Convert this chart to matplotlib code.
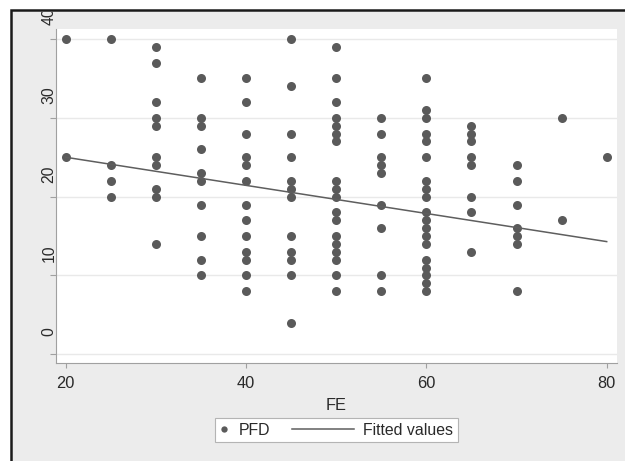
import numpy as np
import matplotlib
matplotlib.use('Agg')
import matplotlib.pyplot as plt
from matplotlib.lines import Line2D
from matplotlib.legend_handler import HandlerLine2D
from matplotlib.patches import Rectangle
from matplotlib.transforms import ScaledTranslation, Bbox, TransformedBbox

# PFD values observed at each FE level
fe_levels = [20, 25, 30, 35, 40, 45, 50, 55, 60, 65, 70, 75, 80]
pfd_groups = [
    [40, 25],
    [40, 24, 22, 20],
    [39, 37, 32, 30, 29, 25, 24, 21, 20, 14],
    [35, 30, 29, 26, 23, 22, 19, 15, 12, 10],
    [35, 32, 28, 25, 24, 22, 19, 17, 15, 13, 12, 10, 8],
    [40, 34, 28, 25, 22, 21, 20, 15, 13, 12, 10, 4],
    [39, 35, 32, 30, 29, 28, 27, 22, 21, 20, 18, 17, 15, 14, 13, 12, 10, 8],
    [30, 28, 25, 24, 23, 19, 16, 10, 8],
    [35, 31, 30, 28, 27, 25, 22, 21, 20, 18, 17, 16, 15, 14, 12, 11, 10, 9, 8],
    [29, 28, 27, 25, 24, 20, 18, 13],
    [24, 22, 19, 16, 15, 14, 8],
    [30, 17],
    [25],
]
# fitted line read at the ends of the FE range
fit_fe = [20, 80]
fit_pfd = [25.0, 14.3]

x_ticks = [20, 40, 60, 80]
y_ticks = [0, 10, 20, 30, 40]

fe = np.repeat(fe_levels, [len(g) for g in pfd_groups])
pfd = np.concatenate(pfd_groups)

plt.rcParams['font.family'] = ['Liberation Sans', 'DejaVu Sans']
txt_col = '#2a2a2a'
axis_col = '#a0a0a0'


class LongLine(HandlerLine2D):
    # legend line that reaches further left than the handle box
    def create_artists(self, legend, orig_handle, xdescent, ydescent,
                       width, height, fontsize, trans):
        extra = 3.3 * fontsize
        y = (height - ydescent) / 2
        line = Line2D([-xdescent - extra, -xdescent + width], [y, y])
        self.update_prop(line, orig_handle, legend)
        line.set_transform(trans)
        return [line]


W, H = 625, 461
fig = plt.figure(figsize=(W / 100, H / 100), dpi=100, facecolor='white')
fig.patches.append(Rectangle((10.5 / W, -0.1), 1.2, 1 - 10.5 / H + 0.1,
                             transform=fig.transFigure, facecolor='#ececec',
                             edgecolor='#1a1a1a', lw=1.8, zorder=-10))

ax = fig.add_axes([55.7 / W, 1 - 363 / H, (616.7 - 55.7) / W, (363 - 29) / H])
ax.set_xlim(18.89, 81.11)
ax.set_ylim(-1.10, 41.27)

pts, = ax.plot(fe, pfd, 'o', ms=6.5, mew=0, color='#5a5a5a', label='PFD', zorder=3)
fit_line, = ax.plot(fit_fe, fit_pfd, color='#5e5e5e', lw=1.1,
                    label='Fitted values', zorder=4)

ax.set_xticks(x_ticks)
ax.set_yticks(y_ticks)
ax.yaxis.grid(True, color='#e9e9e9', lw=1)
ax.set_axisbelow(True)
for s in ['top', 'right']:
    ax.spines[s].set_visible(False)
for s in ['left', 'bottom']:
    ax.spines[s].set_color(axis_col)
    ax.spines[s].set_linewidth(0.8)

ax.tick_params(axis='x', length=3.6, width=0.8, color=axis_col,
               labelsize=11.8, labelcolor=txt_col, pad=6)
ax.tick_params(axis='y', length=4.6, width=0.8, color=axis_col,
               labelsize=11.3, labelcolor=txt_col, labelrotation=90, pad=-5)

clip = TransformedBbox(Bbox.from_extents(0, 0, 1, 1 - 12 / H), fig.transFigure)
for lab in ax.get_yticklabels():
    lab.set_va('center')
    lab.set_transform(lab.get_transform() +
                      ScaledTranslation(0, 0.227, fig.dpi_scale_trans))
    lab.set_clip_on(True)
    lab.set_clip_box(clip)

ax.set_xlabel('FE', fontsize=11.8, color=txt_col, labelpad=4.5)

leg = fig.legend(handles=[pts, fit_line], labels=['PFD', 'Fitted values'],
                 loc='center', bbox_to_anchor=(336.5 / W, 1 - 430 / H),
                 ncol=2, fontsize=11.4, handlelength=0.6, handletextpad=0.6,
                 columnspacing=4.7, borderpad=0.3, markerscale=0.7,
                 fancybox=False, framealpha=1,
                 handler_map={fit_line: LongLine()})
leg.get_frame().set_edgecolor('#b4b4b4')
leg.get_frame().set_linewidth(0.8)
for t in leg.get_texts():
    t.set_color(txt_col)

fig.savefig('out.png', dpi=100)
